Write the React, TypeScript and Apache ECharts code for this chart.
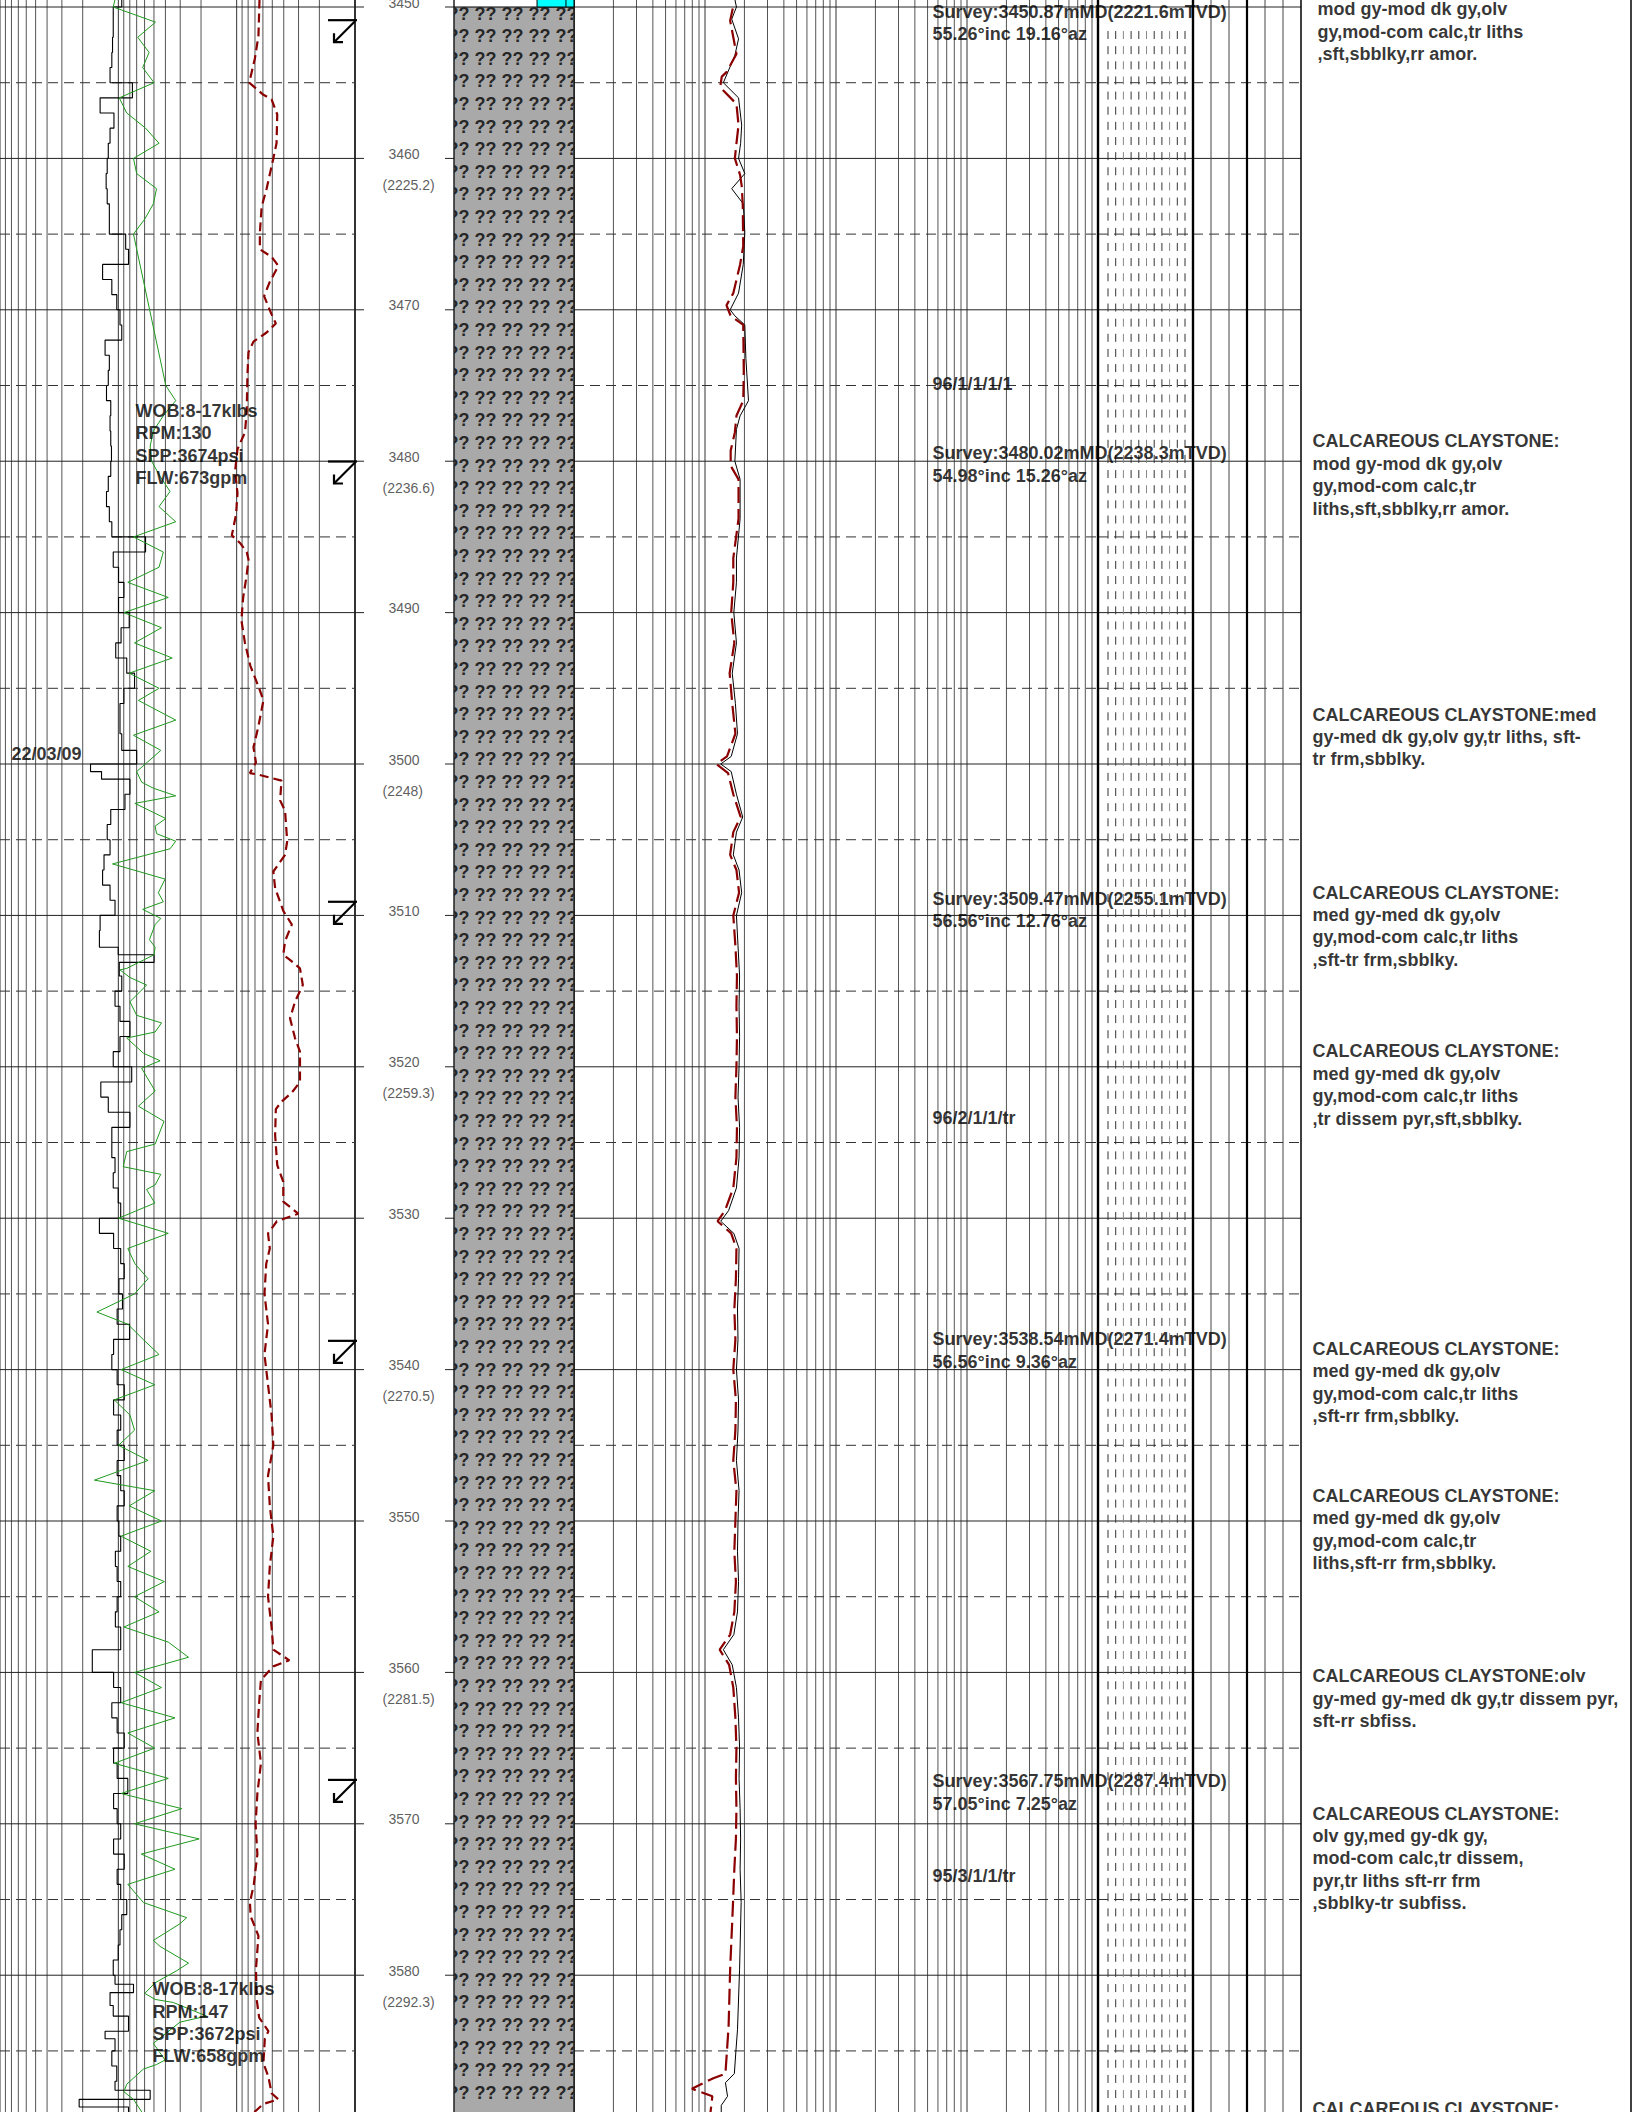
import React, { useEffect, useRef } from "react";
import * as echarts from "echarts";

const W = 1632;
const H = 2112;
const FONT = "'Liberation Sans', Arial, Helvetica, sans-serif";
const D_MIN = 3449.537;
const D_MAX = 3589.035;

// ---------- depth scale ----------
const depthTicks = [3450, 3460, 3470, 3480, 3490, 3500, 3510, 3520, 3530, 3540, 3550, 3560, 3570, 3580];
const tvdDepths = [3460, 3480, 3500, 3520, 3540, 3560, 3580];
const tvdLabels = ["2225.2", "2236.6", "2248", "2259.3", "2270.5", "2281.5", "2292.3"];
const gridDepths = [3450, 3455, 3460, 3465, 3470, 3475, 3480, 3485, 3490, 3495, 3500, 3505, 3510, 3515, 3520, 3525, 3530, 3535, 3540, 3545, 3550, 3555, 3560, 3565, 3570, 3575, 3580, 3585];
const logTicks3 = [1, 2, 3, 4, 5, 6, 7, 8, 9, 10, 20, 30, 40, 50, 60, 70, 80, 90, 100, 200, 300, 400, 500, 600, 700, 800, 900, 1000];
const logTicks4 = [1, 2, 3, 4, 5, 6, 7, 8, 9, 10, 20, 30, 40, 50, 60, 70, 80, 90, 100, 200, 300, 400, 500, 600, 700, 800, 900, 1000, 2000, 3000, 4000, 5000, 6000, 7000, 8000, 9000, 10000];

// ---------- surveys ----------
const surveyMD = [3450.87, 3480.02, 3509.47, 3538.54, 3567.75];
const surveyTVD = [2221.6, 2238.3, 2255.1, 2271.4, 2287.4];
const surveyInc = [55.26, 54.98, 56.56, 56.56, 57.05];
const surveyAz = [19.16, 15.26, 12.76, 9.36, 7.25];
const surveyMarkDepths = [3450.87, 3480.02, 3509.1, 3538.1, 3567.1];

// ---------- gas ratios ----------
const ratioDepths = [3474.9, 3523.4, 3573.5];
const ratioTexts = ["96/1/1/1/1", "96/2/1/1/tr", "95/3/1/1/tr"];

// ---------- drilling parameters ----------
const paramDepths = [3476.7, 3580.95];
const paramTexts = [
  "WOB:8-17klbs\nRPM:130\nSPP:3674psi\nFLW:673gpm",
  "WOB:8-17klbs\nRPM:147\nSPP:3672psi\nFLW:658gpm",
];
const dateDepths = [3499.34];
const dateTexts = ["22/03/09"];

// ---------- lithology ----------
const lithoTops = [3450];
const lithoBottoms = [3590];
const showTops = [3449];
const showBottoms = [3450];
const patternTop = 3451.5;
const patternBottom = 3590;

// ---------- descriptions ----------
const descDepths = [3448.68, 3478.71, 3496.76, 3508.51, 3519.0, 3538.66, 3548.35, 3560.27, 3569.35, 3588.83];
const descTexts = [
  "CALCAREOUS CLAYSTONE:\n mod gy-mod dk gy,olv\n gy,mod-com calc,tr liths\n ,sft,sbblky,rr amor.",
  "CALCAREOUS CLAYSTONE:\nmod gy-mod dk gy,olv\ngy,mod-com calc,tr\nliths,sft,sbblky,rr amor.",
  "CALCAREOUS CLAYSTONE:med\ngy-med dk gy,olv gy,tr liths, sft-\ntr frm,sbblky.",
  "CALCAREOUS CLAYSTONE:\nmed gy-med dk gy,olv\ngy,mod-com calc,tr liths\n,sft-tr frm,sbblky.",
  "CALCAREOUS CLAYSTONE:\nmed gy-med dk gy,olv\ngy,mod-com calc,tr liths\n,tr dissem pyr,sft,sbblky.",
  "CALCAREOUS CLAYSTONE:\nmed gy-med dk gy,olv\ngy,mod-com calc,tr liths\n,sft-rr frm,sbblky.",
  "CALCAREOUS CLAYSTONE:\nmed gy-med dk gy,olv\ngy,mod-com calc,tr\nliths,sft-rr frm,sbblky.",
  "CALCAREOUS CLAYSTONE:olv\ngy-med gy-med dk gy,tr dissem pyr,\nsft-rr sbfiss.",
  "CALCAREOUS CLAYSTONE:\nolv gy,med gy-dk gy,\nmod-com calc,tr dissem,\npyr,tr liths sft-rr frm\n,sbblky-tr subfiss.",
  "CALCAREOUS CLAYSTONE:",
];

// ---------- curves (track 1: % of track width; track 4: % of track width) ----------
const ropSteps: [number, number][] = [
  [3449, 34.3], [3450, 31.9], [3451, 31.9], [3452, 31.7], [3453, 31.5], [3454, 31.0],
  [3455, 37.3], [3456, 28.2], [3457, 32.1], [3458, 31.0], [3459, 30.5],
  [3460, 30.2], [3461, 29.9], [3462, 30.2], [3463, 30.8], [3464, 30.8],
  [3465, 35.4], [3466, 36.2], [3467, 28.9], [3468, 31.5], [3469, 32.9],
  [3470, 33.8], [3471, 34.3], [3472, 29.6], [3473, 30.8], [3474, 30.5],
  [3475, 30.0], [3476, 31.2], [3477, 31.0], [3478, 31.2], [3479, 31.4],
  [3480, 31.2], [3481, 30.5], [3482, 30.0], [3483, 30.8], [3484, 31.5],
  [3485, 41.0], [3486, 31.9], [3487, 33.4], [3488, 34.9], [3489, 33.4],
  [3490, 36.4], [3491, 34.1], [3492, 32.6], [3493, 35.7], [3494, 37.9],
  [3495, 34.9], [3496, 33.8], [3497, 33.8], [3498, 34.3], [3499.1, 38.5],
  [3500, 25.5], [3500.5, 28.6], [3501, 36.6], [3502, 35.2], [3503, 31.2], [3504, 30.2],
  [3505, 31.0], [3506, 29.3], [3507, 28.9], [3508, 31.0], [3509, 32.4],
  [3510, 28.2], [3511, 28.0], [3512.1, 33.3], [3512.6, 43.4], [3513.1, 33.6], [3514, 34.3],
  [3515, 32.4], [3516, 33.8], [3517, 36.6], [3518, 33.8], [3519, 31.9],
  [3520, 37.1], [3521, 28.4], [3522, 30.5], [3523, 36.6], [3524, 31.5],
  [3525, 31.5], [3526, 32.4], [3527, 31.9], [3528, 33.3],
  [3529, 34.0], [3530, 28.0], [3531, 32.0], [3532, 34.0], [3533, 35.0], [3534, 33.5],
  [3535, 34.5], [3536, 33.0], [3537, 36.5], [3538, 32.0], [3539, 31.5], [3540, 33.0],
  [3541, 35.0], [3542, 32.0], [3543, 34.0], [3544, 33.0], [3545, 35.0], [3546, 33.0],
  [3547, 34.0], [3548, 35.0], [3549, 33.0], [3550, 33.5], [3551, 34.0], [3552, 32.5],
  [3553, 33.0], [3554, 34.0], [3555, 33.0], [3556, 32.5], [3557, 34.0], [3558.5, 26.0],
  [3560, 32.0], [3561, 34.0], [3562, 31.5], [3563, 33.0], [3564, 35.0], [3565, 32.0],
  [3566, 33.0], [3567, 36.0], [3568, 32.0], [3569, 33.0], [3570, 34.0], [3571, 32.0],
  [3572, 35.0], [3573, 33.0], [3574, 34.0],
  [3575, 35.7], [3576, 34.3], [3577, 33.8], [3578, 33.3], [3579, 31.9], [3580, 32.4],
  [3580.6, 37.6], [3581.15, 31.0], [3582, 31.9], [3582.7, 36.2], [3583.7, 29.6], [3584.2, 32.4],
  [3585, 31.5], [3586, 32.9], [3587, 32.4], [3587.6, 42.3], [3588.2, 22.3], [3588.7, 36.2],
];

const greenCurve: [number, number][] = [
  [3449.5, 32.4], [3450, 31.9], [3451, 43.8], [3452, 38.8], [3453, 42.0], [3454, 40.2], [3455, 43.4],
  [3456, 33.6], [3457, 35.7], [3458, 41.0], [3459, 44.8], [3460, 37.6], [3461, 38.5], [3462, 44.1],
  [3463, 43.2], [3464, 40.8], [3465, 37.6],
  [3475, 46.7], [3476, 49.5], [3477, 46.0], [3478, 43.2], [3479, 42.3], [3480, 42.7], [3481, 45.1],
  [3482, 47.9], [3483, 44.8], [3484, 49.5], [3485, 37.6], [3486, 46.0],
  [3487, 44.8], [3488, 36.0], [3489, 47.4], [3490, 34.9], [3491, 45.5], [3492, 37.9], [3493, 48.5],
  [3494, 36.4], [3495, 44.8],
  [3495.8, 39.0], [3497.1, 49.5], [3498.1, 37.6], [3499.1, 45.3], [3500.5, 38.5], [3501.2, 39.9],
  [3501.6, 43.2], [3502.1, 49.5], [3502.6, 38.0], [3503.6, 46.7], [3504.1, 43.7], [3504.6, 44.1],
  [3505.1, 49.5], [3505.6, 47.9], [3506.6, 31.7], [3507.6, 46.5], [3508.5, 44.6], [3509.1, 46.0],
  [3509.6, 40.2], [3510.2, 45.3], [3510.6, 43.7], [3511.6, 42.1], [3512.1, 43.7], [3512.6, 43.4],
  [3513.5, 35.7], [3513.6, 33.8], [3514.1, 36.6], [3514.6, 41.3], [3515.7, 36.6], [3516.6, 38.5],
  [3517.1, 45.5], [3517.7, 43.7], [3518.1, 35.7], [3519.1, 40.4], [3519.6, 45.1], [3520.1, 39.9],
  [3521.6, 43.7], [3522.6, 39.0], [3523.6, 46.2], [3525.1, 43.7], [3525.6, 35.7], [3526.6, 34.7],
  [3527.1, 45.3], [3527.8, 43.7], [3528.1, 41.3],
  [3529, 43.6], [3530, 33.4], [3531, 47.4], [3532, 36.0], [3533, 38.0], [3534, 41.7], [3535, 37.9],
  [3536.2, 27.3], [3537, 36.0], [3538, 40.3], [3539, 44.8], [3540, 34.1], [3541, 43.6], [3542, 32.2],
  [3543, 36.6], [3544, 37.9], [3545, 33.4], [3546, 41.7], [3547.3, 26.6], [3548, 43.6], [3549, 36.4],
  [3550, 45.5], [3551, 34.1], [3552, 42.5], [3553, 36.0], [3554, 46.3], [3555, 37.9], [3556, 44.8],
  [3557, 34.9], [3558, 47.4], [3559, 53.1], [3560, 37.9], [3561, 45.5], [3562, 34.1], [3563, 49.3],
  [3564, 36.0], [3565, 43.6], [3566, 32.2], [3567, 47.4], [3568, 34.1], [3569, 51.2], [3570, 37.9],
  [3571, 56.1], [3572, 39.8], [3573, 49.3], [3574, 36.0],
  [3575.2, 40.4], [3576.2, 52.6], [3576.6, 50.7], [3577.7, 43.2], [3578.1, 45.1], [3579.2, 53.1],
  [3579.7, 49.8], [3580.5, 43.7], [3581.2, 40.8], [3581.6, 43.7], [3581.8, 48.8], [3582.7, 58.2],
  [3583.1, 50.7], [3584.5, 43.2], [3585.6, 46.5], [3585.9, 44.1], [3586.2, 40.4], [3587.2, 35.7],
  [3587.7, 34.9], [3588.2, 37.6], [3589.2, 40.4],
];

const redCurve1: [number, number][] = [
  [3449.5, 73.1], [3451.9, 72.8], [3453.4, 71.8], [3455.0, 70.2], [3455.8, 74.2], [3456.1, 76.5],
  [3457.1, 78.1], [3459.0, 77.9], [3460.0, 77.0], [3462.0, 75.1], [3463.2, 73.7], [3464.9, 73.2],
  [3466.0, 73.2], [3466.5, 76.5], [3467.1, 78.4], [3468.2, 75.9], [3469.1, 74.4], [3470.3, 76.5],
  [3470.9, 77.7], [3471.5, 75.1], [3472.1, 71.4], [3472.8, 70.0], [3474.3, 69.7], [3476.7, 69.5],
  [3478.1, 69.0], [3479.2, 66.9], [3480.7, 66.2], [3482.1, 66.9], [3483.5, 66.5], [3484.9, 65.3],
  [3485.4, 67.6], [3486.0, 69.5], [3486.5, 70.0],
  [3487.5, 69.5], [3489, 68.5], [3490.5, 68.0], [3492, 69.0], [3493.5, 70.5], [3495, 73.0],
  [3495.8, 74.2], [3497.5, 72.8], [3498.9, 71.4], [3499.9, 72.1], [3500.6, 70.4], [3500.7, 72.8],
  [3501.1, 79.3], [3502.4, 78.9], [3503.1, 80.3], [3505.1, 80.9], [3506.0, 80.3], [3507.1, 77.0],
  [3508.2, 77.5], [3509.7, 79.8], [3510.6, 82.2], [3511.7, 80.3], [3512.6, 79.8], [3512.9, 81.5],
  [3513.5, 84.5], [3514.6, 85.3], [3515.7, 83.1], [3516.8, 81.7], [3518.1, 83.1], [3519.0, 84.5],
  [3521.0, 84.5], [3521.7, 82.2], [3522.3, 79.3], [3522.8, 77.7], [3524.5, 77.5], [3526.5, 78.1],
  [3527.6, 79.8], [3528.9, 79.8],
  [3529.7, 84.0], [3530.2, 78.0], [3531, 75.5], [3532, 76.0], [3533, 75.0], [3535, 74.5], [3537, 75.5],
  [3539, 74.5], [3541, 75.5], [3543, 76.5], [3545, 77.0], [3547, 75.5], [3549, 76.0], [3551, 77.0],
  [3553, 76.0], [3555, 75.5], [3557, 76.5], [3558.5, 77.0], [3559.2, 81.5], [3559.6, 77.0],
  [3560.5, 73.5], [3562, 73.0], [3564, 72.5], [3566, 73.5], [3568, 72.5], [3570, 72.0], [3572, 72.5],
  [3574, 71.5],
  [3575.2, 70.4], [3576.1, 70.6], [3577.4, 72.8], [3579.6, 72.1], [3581.6, 72.3], [3582.8, 73.0],
  [3583.7, 75.6], [3584.2, 74.6], [3585.8, 74.2], [3586.7, 75.6], [3587.8, 76.5], [3588.2, 78.4],
  [3588.5, 74.2], [3589.2, 70.9],
];

const blackCurve4: [number, number][] = [
  [3449.5, 30.7], [3450, 31.0], [3450.8, 30.1], [3452.1, 31.4], [3453.2, 30.7], [3455, 28.5],
  [3456, 31.4], [3457.8, 32.0], [3459, 31.8], [3460, 31.4], [3461, 32.6], [3462, 30.1], [3463, 32.3],
  [3464.9, 32.6], [3467, 32.3], [3468.9, 31.4], [3470, 29.8], [3470.4, 30.7], [3471, 32.6],
  [3473.2, 32.8], [3476, 33.3], [3477, 31.7], [3477.9, 31.0], [3480, 30.7], [3481.2, 31.7],
  [3483.8, 31.7], [3486.4, 31.0],
  [3488, 31.0], [3490, 30.5], [3492, 31.0], [3494, 30.2], [3496, 30.8], [3498, 31.2], [3499.5, 30.0],
  [3500, 28.0], [3500.5, 30.0], [3502, 31.0], [3503.5, 32.2], [3504.5, 31.0], [3506, 30.4],
  [3507, 31.5], [3508.5, 32.0], [3510, 31.0], [3512, 31.3], [3514, 31.6], [3516, 31.5], [3518, 31.6],
  [3520, 31.5], [3522, 31.3], [3524, 31.6], [3526, 31.5], [3528, 31.0], [3529.5, 29.5], [3530.2, 28.0],
  [3531, 30.5], [3532, 31.5], [3534, 31.4], [3536, 31.2], [3538, 31.3], [3540, 31.0], [3542, 31.4],
  [3544, 31.3], [3546, 31.0], [3548, 31.5], [3550, 31.3], [3552, 31.2], [3554, 31.4], [3556, 31.2],
  [3557.5, 30.5], [3558.5, 28.5], [3559.5, 30.2], [3561, 31.0], [3563, 31.4], [3565, 31.6],
  [3567, 31.5], [3569, 31.7], [3571, 31.8], [3573, 31.7],
  [3575.2, 31.9], [3579.6, 31.6], [3583.6, 31.2], [3585, 30.9], [3586.5, 30.6], [3587.1, 28.9],
  [3588, 29.3], [3588.6, 28.1], [3589.2, 28.1],
];

const redCurve4: [number, number][] = [
  [3450.1, 30.3], [3450.9, 29.8], [3453.1, 31.0], [3454.3, 29.1], [3454.6, 28.2], [3455.3, 27.9],
  [3456.4, 31.0], [3457.8, 31.4], [3459.0, 31.0], [3460, 30.7], [3461.1, 31.7], [3461.8, 32.0],
  [3463, 32.2], [3465.8, 32.3], [3467, 31.7], [3468.9, 30.4], [3469.7, 29.1], [3470.4, 29.9],
  [3471, 32.3], [3474.1, 32.4], [3476, 32.3], [3477, 31.0], [3478.1, 30.7], [3479.3, 29.9],
  [3480.3, 29.9], [3481.2, 31.4], [3483.8, 31.4], [3486.4, 30.4],
  [3488, 30.4], [3490, 30.0], [3492, 30.6], [3494, 29.7], [3496, 30.2], [3498, 30.8], [3499.5, 29.2],
  [3500, 27.2], [3500.6, 29.4], [3502, 30.4], [3503.5, 31.8], [3504.5, 30.4], [3506, 29.8],
  [3507, 31.0], [3508.5, 31.5], [3510, 30.4], [3512, 30.8], [3514, 31.1], [3516, 31.0], [3518, 31.1],
  [3520, 31.0], [3522, 30.8], [3524, 31.1], [3526, 31.0], [3528, 30.4], [3529.5, 28.8], [3530.2, 27.4],
  [3531, 30.0], [3532, 31.0], [3534, 30.9], [3536, 30.6], [3538, 30.8], [3540, 30.4], [3542, 30.9],
  [3544, 30.8], [3546, 30.4], [3548, 31.0], [3550, 30.8], [3552, 30.6], [3554, 30.9], [3556, 30.6],
  [3557.5, 29.8], [3558.5, 27.8], [3559.5, 29.6], [3561, 30.4], [3563, 30.8], [3565, 31.0],
  [3567, 30.9], [3569, 31.0], [3571, 30.9], [3573, 30.6],
  [3575.6, 30.3], [3579.6, 29.8], [3583.4, 29.5], [3586.5, 28.9], [3586.8, 26.6], [3587.5, 22.5],
  [3588, 26.4], [3589.2, 26.0],
];

// ---------- layout (pixels) ----------
const T1 = [0, 355];
const TD = [355, 454];
const TL = [454, 574];
const T4 = [574, 1098];
const TP = [1098, 1193];
const TC = [1193, 1301];
const TT = [1301, 1631];

function buildOption(): any {
  const tracks = [T1, TD, TL, T4, TP, TC, TT];
  const grid = tracks.map(([a, b]) => ({ left: a, top: 0, width: b - a, height: H }));
  const hid = { show: false, axisLine: { show: false }, axisTick: { show: false }, axisLabel: { show: false }, splitLine: { show: false } };
  const xAxis = [
    { gridIndex: 0, type: "log", logBase: 10, min: 1, max: 1000, inverse: true, ...hid },
    { gridIndex: 0, type: "value", min: 0, max: 100, ...hid },
    { gridIndex: 1, type: "value", min: 0, max: 1, ...hid },
    { gridIndex: 2, type: "value", min: 0, max: 1, ...hid },
    { gridIndex: 3, type: "log", logBase: 10, min: 1, max: 10000, ...hid },
    { gridIndex: 3, type: "value", min: 0, max: 100, ...hid },
    { gridIndex: 4, type: "value", min: 0, max: 1, ...hid },
    { gridIndex: 5, type: "value", min: 0, max: 6, ...hid },
    { gridIndex: 6, type: "value", min: 0, max: 1, ...hid },
  ];
  const yAxis = tracks.map((_, i) => ({ gridIndex: i, type: "value", min: D_MIN, max: D_MAX, inverse: true, ...hid }));

  const vLines = (xi: number, yi: number, values: number[], sty: (v: number) => [string, number]) => ({
    type: "custom", xAxisIndex: xi, yAxisIndex: yi, z: 1, silent: true, clip: false,
    data: values.map((v) => [v, 3500]),
    renderItem: (params: any, api: any) => {
      const cs = params.coordSys;
      const v = api.value(0);
      const x = api.coord([v, api.value(1)])[0];
      const s = sty(v);
      return { type: "line", shape: { x1: x, y1: cs.y, x2: x, y2: cs.y + cs.height }, style: { stroke: s[0], lineWidth: s[1] } };
    },
  });
  const hLines = (xi: number, yi: number, xRef: number) => ({
    type: "custom", xAxisIndex: xi, yAxisIndex: yi, z: 1, silent: true, clip: false,
    data: gridDepths.map((d) => [xRef, d]),
    renderItem: (params: any, api: any) => {
      const cs = params.coordSys;
      const d = api.value(1);
      const y = api.coord([api.value(0), d])[1];
      const major = d % 10 === 0;
      return {
        type: "line",
        shape: { x1: cs.x, y1: y, x2: cs.x + cs.width, y2: y },
        style: major ? { stroke: "#222", lineWidth: 1 } : { stroke: "#333", lineWidth: 1, lineDash: [10, 6] },
      };
    },
  });
  const curve = (xi: number, yi: number, pts: number[][], color: string, width: number, type: any) => ({
    type: "line", xAxisIndex: xi, yAxisIndex: yi, z: 3, silent: true, clip: true,
    showSymbol: false, symbol: "none", smooth: false,
    lineStyle: { color, width, type },
    data: pts,
  });
  const textSeries = (xi: number, yi: number, items: { d: number; text: string; dx: number; dy: number }[], font: any) => ({
    type: "scatter", xAxisIndex: xi, yAxisIndex: yi, z: 6, silent: true, clip: false,
    symbolSize: 1, itemStyle: { color: "rgba(0,0,0,0)" },
    data: items.map((it) => ({
      value: [xAxis[xi].min, it.d],
      label: { show: true, formatter: it.text, position: [it.dx, it.dy] },
    })),
    label: { show: true, align: "left", verticalAlign: "top", fontFamily: FONT, ...font },
  });

  const boldFont = { fontSize: 18, fontWeight: "bold", lineHeight: 22.4, color: "#000" };

  const ropPts: number[][] = [];
  ropSteps.forEach(([top, v], i) => {
    const bot = i + 1 < ropSteps.length ? ropSteps[i + 1][0] : 3590;
    ropPts.push([v, top], [v, bot]);
  });

  const series: any[] = [
    // grid lines
    vLines(0, 0, logTicks3, (v) => (v === 1 ? ["#000", 1.6] : v === 10 || v === 100 || v === 1000 ? ["#333", 1] : ["#555", 1])),
    hLines(1, 0, 0),
    vLines(4, 3, logTicks4, (v) => (v === 10000 ? ["#000", 2.2] : v === 1 ? ["#000", 1.2] : [10, 100, 1000].includes(v) ? ["#333", 1] : ["#555", 1])),
    hLines(5, 3, 0),
    hLines(6, 4, 0),
    vLines(6, 4, [0, 1], () => ["#000", 2.2]),
    hLines(7, 5, 0),
    vLines(7, 5, [0, 1, 2, 3, 4, 5, 6], (v) => (v === 0 || v === 3 ? ["#000", 2.2] : v === 6 ? ["#000", 1.5] : ["#444", 1])),
    vLines(8, 6, [1], () => ["#000", 1.5]),
    // depth ticks
    {
      type: "custom", xAxisIndex: 2, yAxisIndex: 1, z: 1, silent: true,
      data: depthTicks.map((d) => [0, d]),
      renderItem: (params: any, api: any) => {
        const cs = params.coordSys;
        const y = api.coord([0, api.value(1)])[1];
        return {
          type: "group",
          children: [
            { type: "line", shape: { x1: cs.x, y1: y, x2: cs.x + 9, y2: y }, style: { stroke: "#222", lineWidth: 1 } },
            { type: "line", shape: { x1: cs.x + cs.width - 9, y1: y, x2: cs.x + cs.width, y2: y }, style: { stroke: "#222", lineWidth: 1 } },
          ],
        };
      },
    },
    // lithology
    {
      type: "custom", xAxisIndex: 3, yAxisIndex: 2, z: 2, silent: true, clip: true,
      data: lithoTops.map((t, i) => [0, t, lithoBottoms[i]]),
      renderItem: (params: any, api: any) => {
        const cs = params.coordSys;
        const p0 = api.coord([0, api.value(1)]);
        const p1 = api.coord([1, api.value(2)]);
        const y1 = Math.min(p1[1], cs.y + cs.height + 30);
        const children: any[] = [
          { type: "rect", shape: { x: p0[0], y: p0[1], width: p1[0] - p0[0], height: y1 - p0[1] }, style: { fill: "#a9a9a9", stroke: "#000", lineWidth: 1.2 } },
        ];
        for (let y = p0[1] + 6.5; y < Math.min(y1, cs.y + cs.height - 4); y += 22.6) {
          children.push({
            type: "text", x: p0[0] - 6.5, y,
            style: { text: "?? ?? ?? ?? ?? ??", fill: "#262626", fontSize: 18, fontWeight: "bold", fontFamily: FONT, align: "left", verticalAlign: "middle" },
          });
        }
        return { type: "group", children };
      },
    },
    // show box
    {
      type: "custom", xAxisIndex: 3, yAxisIndex: 2, z: 2, silent: true, clip: false,
      data: showTops.map((t, i) => [0.692, t, showBottoms[i]]),
      renderItem: (params: any, api: any) => {
        const p0 = api.coord([api.value(0), api.value(1)]);
        const p1 = api.coord([1, api.value(2)]);
        const pm = api.coord([0.933, api.value(2)]);
        return {
          type: "group",
          children: [
            { type: "rect", shape: { x: p0[0], y: p0[1], width: p1[0] - p0[0], height: p1[1] - p0[1] }, style: { fill: "#00ffff", stroke: "#000", lineWidth: 1 } },
            { type: "line", shape: { x1: pm[0], y1: p0[1], x2: pm[0], y2: p1[1] }, style: { stroke: "#000", lineWidth: 1 } },
          ],
        };
      },
    },
    vLines(3, 2, [0, 1], () => ["#000", 1.3]),
    // dashed tick pattern
    {
      type: "custom", xAxisIndex: 6, yAxisIndex: 4, z: 2, silent: true, clip: true,
      data: [[0, patternTop, patternBottom]],
      renderItem: (params: any, api: any) => {
        const cs = params.coordSys;
        const children: any[] = [];
        for (let d = Math.ceil(api.value(1)); d <= api.value(2); d++) {
          const yc = api.coord([0, d - 0.15])[1];
          for (let k = 0; k < 11; k++) {
            const x = cs.x + 10 + k * 7.7;
            children.push({ type: "line", shape: { x1: x, y1: yc - 4, x2: x, y2: yc + 4 }, style: { stroke: k % 3 === 2 ? "#888" : "#333", lineWidth: 1 } });
          }
        }
        return { type: "group", children };
      },
    },
    // curves
    curve(1, 0, ropPts, "#000", 1.1, "solid"),
    curve(1, 0, greenCurve.map(([d, v]) => [v, d]), "#1f9a1f", 1, "solid"),
    curve(1, 0, redCurve1.map(([d, v]) => [v, d]), "#8b0000", 2.2, [9, 5]),
    curve(5, 3, blackCurve4.map(([d, v]) => [v, d]), "#000", 1, "solid"),
    curve(5, 3, redCurve4.map(([d, v]) => [v, d]), "#8b0000", 2.2, [16, 6]),
    // survey arrows
    {
      type: "custom", xAxisIndex: 1, yAxisIndex: 0, z: 4, silent: true, clip: false,
      data: surveyMarkDepths.map((d) => [100, d]),
      renderItem: (params: any, api: any) => {
        const [px, py] = api.coord([100, api.value(1)]);
        const st = { stroke: "#000", lineWidth: 2.2, fill: "none" };
        return {
          type: "group",
          children: [
            { type: "line", shape: { x1: px - 27, y1: py, x2: px + 2, y2: py }, style: st },
            { type: "line", shape: { x1: px, y1: py + 1, x2: px - 21, y2: py + 22 }, style: st },
            { type: "polyline", shape: { points: [[px - 21, py + 13], [px - 21, py + 22], [px - 12, py + 22]] }, style: st },
          ],
        };
      },
    },
    // texts
    textSeries(2, 1, depthTicks.map((d) => ({ d, text: String(d), dx: 34, dy: -12 })), { fontSize: 14, lineHeight: 16, color: "#333" }),
    textSeries(2, 1, tvdDepths.map((d, i) => ({ d, text: "(" + tvdLabels[i] + ")", dx: 28, dy: 19 })), { fontSize: 14, lineHeight: 16, color: "#333" }),
    textSeries(1, 0, paramDepths.map((d, i) => ({ d, text: paramTexts[i], dx: i === 0 ? 136 : 153, dy: -11 })), boldFont),
    textSeries(1, 0, dateDepths.map((d, i) => ({ d, text: dateTexts[i], dx: 12, dy: -11 })), boldFont),
    textSeries(5, 3, surveyMD.map((d, i) => ({
      d,
      text: "Survey:" + surveyMD[i].toFixed(2) + "mMD(" + surveyTVD[i].toFixed(1) + "mTVD)\n" + surveyInc[i].toFixed(2) + "°inc " + surveyAz[i].toFixed(2) + "°az",
      dx: 359, dy: -19,
    })), boldFont),
    textSeries(5, 3, ratioDepths.map((d, i) => ({ d, text: ratioTexts[i], dx: 359, dy: -11 })), boldFont),
    textSeries(8, 6, descDepths.map((d, i) => ({ d, text: descTexts[i], dx: 12, dy: -11 })), boldFont),
  ];

  return { animation: false, backgroundColor: "#fff", grid, xAxis, yAxis, series };
}

export default function App() {
  const ref = useRef<HTMLDivElement>(null);
  useEffect(() => {
    document.body.style.margin = "0";
    document.body.style.overflow = "hidden";
    const chart = echarts.init(ref.current as HTMLDivElement, null, { renderer: "svg", width: W, height: H });
    chart.setOption(buildOption());
    return () => chart.dispose();
  }, []);
  return <div ref={ref} style={{ position: "absolute", left: 0, top: 0, width: W, height: H, background: "#fff" }} />;
}
